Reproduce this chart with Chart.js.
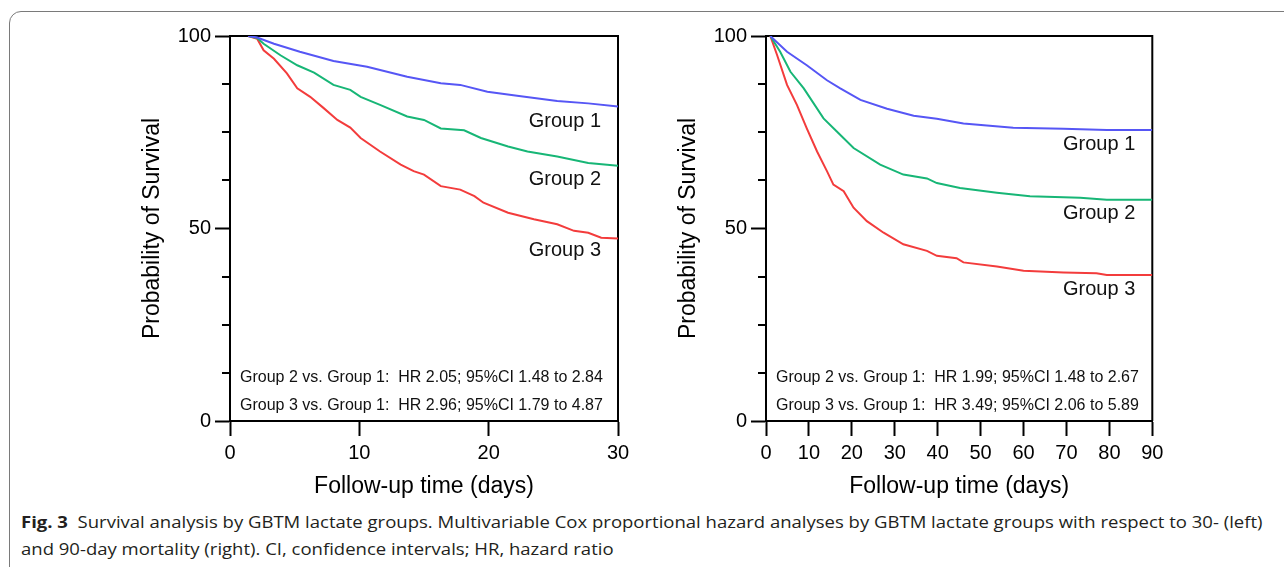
<!DOCTYPE html>
<html>
<head>
<meta charset="utf-8">
<script src="https://cdn.jsdelivr.net/npm/chart.js@4.4.1/dist/chart.umd.min.js"></script>
<style>
  html, body { margin:0; padding:0; background:#fff; }
  body { width:1284px; height:567px; position:relative; overflow:hidden; }
  #frame { position:absolute; left:9px; top:11px; width:1310px; height:600px; border:1.5px solid #7a7a7a; border-radius:12px; box-sizing:border-box; }
  canvas { position:absolute; }
  #c1 { left:130px; top:20px; }
  #c2 { left:665px; top:20px; }
  .cap { position:absolute; left:21px; white-space:nowrap; font-family:"Open Sans","Noto Sans",sans-serif; font-size:16.5px; color:#231f20; transform-origin:0 50%; line-height:20px; }
  #cap1 { top:512px; }
  #cap2 { top:539px; }
</style>
</head>
<body>
<div id="frame"></div>
<canvas id="c1" width="510" height="480"></canvas>
<canvas id="c2" width="510" height="480"></canvas>
<div class="cap" id="cap1"><b>Fig. 3</b>&nbsp; Survival analysis by GBTM lactate groups. Multivariable Cox proportional hazard analyses by GBTM lactate groups with respect to 30- (left)</div>
<div class="cap" id="cap2">and 90-day mortality (right). CI, confidence intervals; HR, hazard ratio</div>
<script>
// ---------- DATA ----------
const groupNames = ["Group 1", "Group 2", "Group 3"];
const yTickLabels = [0, 50, 100];

// 30-day follow-up (left panel)
const d30_g1Days = [1.4, 2.1, 3.4, 5.4, 8.0, 10.6, 13.7, 16.3, 17.8, 19.9, 22.2, 25.3, 27.7, 30];
const d30_g1Surv = [100, 99.6, 98.0, 95.9, 93.5, 92.0, 89.4, 87.7, 87.3, 85.5, 84.5, 83.1, 82.5, 81.7];
const d30_g2Days = [1.4, 2.1, 2.6, 3.9, 5.2, 6.5, 8.0, 9.3, 10.1, 11.6, 13.7, 15.0, 16.3, 18.1, 19.4, 21.5, 23.0, 25.3, 27.7, 30];
const d30_g2Surv = [100, 99.5, 98.0, 95.0, 92.4, 90.5, 87.3, 86.0, 84.2, 82.1, 79.1, 78.2, 76.0, 75.5, 73.5, 71.3, 70.0, 68.7, 67.0, 66.3];
const d30_g3Days = [1.4, 2.1, 2.6, 3.4, 4.4, 5.2, 6.2, 7.2, 8.3, 9.3, 10.1, 11.6, 13.2, 14.2, 15.0, 16.3, 17.8, 18.9, 19.6, 21.5, 23.5, 25.3, 26.6, 27.7, 28.7, 30];
const d30_g3Surv = [100, 99.3, 96.3, 94.1, 90.3, 86.4, 84.2, 81.4, 78.2, 76.2, 73.5, 70.0, 66.6, 64.9, 64.0, 61.0, 60.1, 58.4, 56.7, 54.1, 52.4, 51.1, 49.4, 48.9, 47.6, 47.4];
const hr30 = ["Group 2 vs. Group 1:  HR 2.05; 95%CI 1.48 to 2.84",
              "Group 3 vs. Group 1:  HR 2.96; 95%CI 1.79 to 4.87"];

// 90-day follow-up (right panel)
const d90_g1Days = [1, 4.9, 9.5, 14.2, 17.3, 22.0, 28.2, 34.4, 39.8, 46.0, 57.6, 69.3, 79.4, 90];
const d90_g1Surv = [100, 95.9, 92.4, 88.5, 86.4, 83.4, 81.1, 79.3, 78.5, 77.3, 76.2, 75.9, 75.6, 75.6];
const d90_g2Days = [1, 3.3, 5.7, 8.8, 13.4, 16.5, 20.4, 26.6, 32.0, 37.5, 39.8, 45.2, 53.8, 61.5, 73.2, 79.4, 90];
const d90_g2Surv = [100, 95.9, 90.7, 86.4, 78.6, 75.2, 70.9, 66.6, 64.0, 63.0, 61.8, 60.5, 59.3, 58.4, 58.0, 57.5, 57.5];
const d90_g3Days = [1, 2.6, 4.9, 7.2, 9.5, 11.9, 14.2, 15.7, 18.1, 20.4, 23.5, 27.4, 32.0, 37.5, 39.8, 44.4, 46.0, 53.8, 60.0, 69.3, 77.0, 79.4, 90];
const d90_g3Surv = [100, 95.0, 87.3, 82.1, 76.0, 70.0, 64.9, 61.4, 59.7, 55.4, 51.9, 48.9, 45.9, 44.2, 42.9, 42.3, 41.2, 40.1, 39.0, 38.6, 38.4, 37.9, 37.9];
const hr90 = ["Group 2 vs. Group 1:  HR 1.99; 95%CI 1.48 to 2.67",
              "Group 3 vs. Group 1:  HR 3.49; 95%CI 2.06 to 5.89"];

// ---------- STYLE ----------
const colors = ["#5656f5", "#17b676", "#f33c3c"];
const FONT = "'Liberation Sans', Arial, Helvetica, sans-serif";

function pts(xs, ys) { return xs.map((x, i) => ({ x: x, y: ys[i] })); }

const kmPlugin = {
  id: 'km',
  beforeDatasetsDraw(chart) {
    const { ctx, chartArea: a } = chart;
    ctx.save();
    ctx.strokeStyle = '#000';
    ctx.lineWidth = 2;
    ctx.beginPath();
    ctx.moveTo(a.left, a.top); ctx.lineTo(a.right, a.top); ctx.lineTo(a.right, a.bottom);
    ctx.stroke();
    // minor y ticks
    const ys = chart.scales.y;
    [12.5, 25, 37.5, 62.5, 75, 87.5].forEach(v => {
      const py = Math.round(ys.getPixelForValue(v));
      ctx.beginPath(); ctx.moveTo(a.left - 8, py); ctx.lineTo(a.left, py); ctx.stroke();
    });
    ctx.restore();
  },
  afterDraw(chart, args, opts) {
    const { ctx, chartArea: a } = chart;
    const xs = chart.scales.x, ys = chart.scales.y;
    ctx.save();
    ctx.fillStyle = '#111';
    ctx.textBaseline = 'middle';
    ctx.textAlign = 'left';
    ctx.font = '20px ' + FONT;
    opts.labels.forEach((l, i) => {
      ctx.fillText(groupNames[i], xs.getPixelForValue(l[0]), ys.getPixelForValue(l[1]));
    });
    ctx.font = '16px ' + FONT;
    ctx.fillText(opts.hr[0], a.left + 10, a.bottom - 43);
    ctx.fillText(opts.hr[1], a.left + 10, a.bottom - 15);
    ctx.restore();
  }
};

function makeChart(id, series, xMax, labels, hr, yw, rightPad, yTitlePad) {
  const datasets = series.map((s, i) => ({
    label: groupNames[i],
    data: pts(s[0], s[1]),
    borderColor: colors[i],
    borderWidth: 2,
    pointRadius: 0,
    fill: false,
    tension: 0
  }));
  return new Chart(document.getElementById(id), {
    type: 'line',
    data: { datasets },
    plugins: [kmPlugin],
    options: {
      responsive: false,
      animation: false,
      devicePixelRatio: 1,
      layout: { padding: { top: 14, right: rightPad, left: 0, bottom: 0 } },
      plugins: {
        legend: { display: false },
        tooltip: { enabled: false },
        km: { labels: labels, hr: hr }
      },
      scales: {
        x: {
          type: 'linear', min: 0, max: xMax,
          afterFit(s) { s.height = 79; },
          ticks: { stepSize: 10, color: '#000', font: { family: FONT, size: 20 }, padding: 5, maxRotation: 0 },
          grid: { display: true, drawOnChartArea: false, drawTicks: true, tickLength: 15, tickColor: '#000', tickWidth: 2 },
          border: { display: true, color: '#000', width: 2 },
          title: { display: true, text: 'Follow-up time (days)', color: '#000', font: { family: FONT, size: 23 }, padding: { top: 0, bottom: 0 } }
        },
        y: {
          type: 'linear', min: 0, max: 100,
          afterFit(s) { s.width = yw; },
          afterBuildTicks(s) { s.ticks = yTickLabels.map(v => ({ value: v })); },
          ticks: { color: '#000', font: { family: FONT, size: 20 }, padding: 4 },
          grid: { display: true, drawOnChartArea: false, drawTicks: true, tickLength: 15, tickColor: '#000', tickWidth: 2 },
          border: { display: true, color: '#000', width: 2 },
          title: { display: true, text: 'Probability of Survival', color: '#000', font: { family: FONT, size: 23 }, padding: { top: yTitlePad, bottom: 0 } }
        }
      }
    }
  });
}

makeChart('c1',
  [[d30_g1Days, d30_g1Surv], [d30_g2Days, d30_g2Surv], [d30_g3Days, d30_g3Surv]],
  30, [[23.1, 77.8], [23.1, 62.8], [23.1, 44.2]], hr30, 100, 22, 9);
makeChart('c2',
  [[d90_g1Days, d90_g1Surv], [d90_g2Days, d90_g2Surv], [d90_g3Days, d90_g3Surv]],
  90, [[69.2, 71.8], [69.2, 54.0], [69.2, 34.1]], hr90, 101, 22.7, 10);

// caption: condense horizontally to match reference width
(function () {
  const c1 = document.getElementById('cap1'), c2 = document.getElementById('cap2');
  const w = c1.scrollWidth;
  const k = 1242 / w;
  c1.style.transform = 'scaleX(' + k + ')';
  c2.style.transform = 'scaleX(' + k + ')';
})();
</script>
</body>
</html>
